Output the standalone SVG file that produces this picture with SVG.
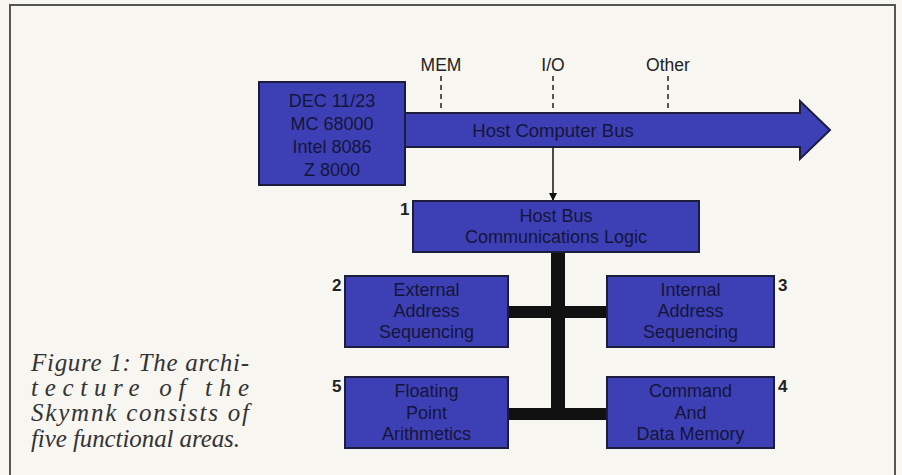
<svg xmlns="http://www.w3.org/2000/svg" width="902" height="475" viewBox="0 0 902 475">
<defs>
<style>
.box{fill:#3c40b4;stroke:#1c1c3c;stroke-width:2}
.t{font-family:"Liberation Sans",Arial,sans-serif;font-size:18px;fill:#15153a;text-anchor:middle}
.num{font-family:"Liberation Sans",Arial,sans-serif;font-size:17px;font-weight:bold;fill:#222}
.lbl{font-family:"Liberation Sans",Arial,sans-serif;font-size:17.5px;fill:#222;text-anchor:middle}
.cap{font-family:"Liberation Serif","Times New Roman",serif;font-style:italic;font-size:25px;fill:#333}
.dash{stroke:#222;stroke-width:1.5;stroke-dasharray:5 4;fill:none}
.bar{fill:#111}
</style>
<marker id="ah" viewBox="0 0 10 10" refX="10" refY="5" markerWidth="8" markerHeight="8" markerUnits="userSpaceOnUse" orient="auto">
<path d="M0,0 L10,5 L0,10 z" fill="#111"/>
</marker>
</defs>
<rect x="0" y="0" width="902" height="475" fill="#f7f6f1"/>
<path d="M10,478 V5 H895 V478" fill="none" stroke="#555" stroke-width="2"/>

<g id="connectors">
<line class="dash" x1="441" y1="76" x2="441" y2="113"/>
<line class="dash" x1="553" y1="76" x2="553" y2="113"/>
<line class="dash" x1="668" y1="76" x2="668" y2="113"/>
<line x1="553" y1="147" x2="553" y2="201" stroke="#111" stroke-width="1.5" marker-end="url(#ah)"/>
<rect class="bar" x="551" y="252" width="14" height="168"/>
<rect class="bar" x="508" y="306" width="99" height="12"/>
<rect class="bar" x="508" y="408" width="99" height="12"/>
</g>

<g id="bus-labels">
<text class="lbl" x="441" y="71">MEM</text>
<text class="lbl" x="553" y="71">I/O</text>
<text class="lbl" x="668" y="71">Other</text>
</g>

<g id="host-bus">
<polygon class="box" points="405,113 800,113 800,101 830,130 800,159 800,147 405,147"/>
<text class="t" x="553" y="137" style="font-size:18.5px">Host Computer Bus</text>
</g>

<g id="cpu">
<rect class="box" x="259" y="82" width="146" height="103"/>
<text class="t" x="332" y="107">DEC 11/23</text>
<text class="t" x="332" y="130">MC 68000</text>
<text class="t" x="332" y="153">Intel 8086</text>
<text class="t" x="332" y="176">Z 8000</text>
</g>

<g id="n1">
<rect class="box" x="413" y="201" width="286" height="51"/>
<text class="t" x="556" y="222">Host Bus</text>
<text class="t" x="556" y="243">Communications Logic</text>
<text class="num" x="400" y="215">1</text>
</g>

<g id="n2">
<rect class="box" x="345" y="276" width="163" height="71"/>
<text class="t" x="426.5" y="296">External</text>
<text class="t" x="426.5" y="317">Address</text>
<text class="t" x="426.5" y="338">Sequencing</text>
<text class="num" x="332" y="291">2</text>
</g>

<g id="n3">
<rect class="box" x="607" y="276" width="167" height="71"/>
<text class="t" x="690.5" y="296">Internal</text>
<text class="t" x="690.5" y="317">Address</text>
<text class="t" x="690.5" y="338">Sequencing</text>
<text class="num" x="778" y="291">3</text>
</g>

<g id="n5">
<rect class="box" x="345" y="377" width="163" height="71"/>
<text class="t" x="426.5" y="397">Floating</text>
<text class="t" x="426.5" y="419">Point</text>
<text class="t" x="426.5" y="440">Arithmetics</text>
<text class="num" x="332" y="392">5</text>
</g>

<g id="n4">
<rect class="box" x="607" y="377" width="167" height="71"/>
<text class="t" x="690.5" y="397">Command</text>
<text class="t" x="690.5" y="419">And</text>
<text class="t" x="690.5" y="440">Data Memory</text>
<text class="num" x="778" y="392">4</text>
</g>

<g id="caption">
<text class="cap" x="31" y="371" textLength="218">Figure 1: The archi-</text>
<text class="cap" x="31" y="396" textLength="218">tecture of the</text>
<text class="cap" x="31" y="421" textLength="218">Skymnk consists of</text>
<text class="cap" x="31" y="447" textLength="209">five functional areas.</text>
</g>
</svg>
